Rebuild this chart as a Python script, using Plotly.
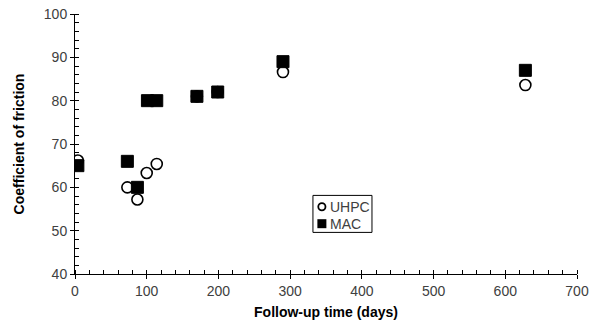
import plotly.graph_objects as go

uhpc_days = [4, 73, 87, 100, 114, 170, 199, 290, 628]
uhpc_cof = [66.2, 60.0, 57.2, 63.3, 65.4, 81.0, 82.0, 86.6, 83.6]
mac_days = [4, 73, 87, 101, 114, 170, 199, 290, 628]
mac_cof = [65.0, 66.0, 60.0, 80.0, 80.0, 81.0, 82.0, 89.0, 87.0]
series_names = ["UHPC", "MAC"]

FONT = "Liberation Sans, Arial, sans-serif"
TICK_COLOR = "#404040"

fig = go.Figure()
fig.add_trace(go.Scatter(x=uhpc_days, y=uhpc_cof, mode="markers", name=series_names[0],
                         marker=dict(symbol="circle", size=11, color="white",
                                     line=dict(color="black", width=1.6))))
fig.add_trace(go.Scatter(x=mac_days, y=mac_cof, mode="markers", name=series_names[1],
                         marker=dict(symbol="square", size=12, color="black",
                                     line=dict(color="black", width=1))))
# invisible trace to carry the inner half of the crossing major ticks
fig.add_trace(go.Scatter(x=[None], y=[None], xaxis="x2", yaxis="y2", showlegend=False))

# hand-drawn compact legend (paper coordinates)
L = dict(x0=0.474, x1=0.5916, y0=0.16, y1=0.3023)
row_y = [0.2588, 0.1935]
sym_x = 0.4918
txt_x = 0.5030
fig.add_shape(type="rect", xref="paper", yref="paper", x0=L["x0"], x1=L["x1"],
              y0=L["y0"], y1=L["y1"], line=dict(color="black", width=1), fillcolor="white",
              layer="above")
fig.add_shape(type="circle", xref="paper", yref="paper", xsizemode="pixel", ysizemode="pixel",
              xanchor=sym_x, yanchor=row_y[0], x0=-3.6, x1=3.6, y0=-3.6, y1=3.6,
              line=dict(color="black", width=1.8), fillcolor="white", layer="above")
fig.add_shape(type="rect", xref="paper", yref="paper", xsizemode="pixel", ysizemode="pixel",
              xanchor=sym_x, yanchor=row_y[1], x0=-4.5, x1=4.5, y0=-4.5, y1=4.5,
              line=dict(color="black", width=0), fillcolor="black", layer="above")
for name, yy in zip(series_names, row_y):
    fig.add_annotation(x=txt_x, y=yy, xref="paper", yref="paper", text=name,
                       showarrow=False, xanchor="left", yanchor="middle",
                       font=dict(family=FONT, size=14, color=TICK_COLOR))

fig.update_layout(
    width=591, height=324,
    margin=dict(l=75, r=14, t=14, b=50),
    paper_bgcolor="white", plot_bgcolor="white",
    font=dict(family=FONT, size=14, color=TICK_COLOR),
    showlegend=False,
    xaxis=dict(range=[0, 700], dtick=100, tick0=0, showgrid=False, zeroline=False,
               automargin=False,
               showline=True, linecolor="black", linewidth=1,
               ticks="outside", ticklen=4, tickcolor="black", tickwidth=1,
               tickfont=dict(family=FONT, size=14, color=TICK_COLOR),
               minor=dict(dtick=20, ticks="inside", ticklen=4, tickcolor="black"),
               title=dict(text="<b>Follow-up time (days)</b>", standoff=9,
                          font=dict(family=FONT, size=14, color="black"))),
    yaxis=dict(range=[40, 100], dtick=10, tick0=0, showgrid=False, zeroline=False,
               automargin=False,
               showline=True, linecolor="black", linewidth=1,
               ticks="outside", ticklen=4, tickcolor="black", tickwidth=1,
               tickfont=dict(family=FONT, size=14, color=TICK_COLOR),
               minor=dict(dtick=2, ticks="inside", ticklen=4, tickcolor="black"),
               title=dict(text="<b>Coefficient of friction</b>", standoff=15,
                          font=dict(family=FONT, size=14, color="black"))),
    xaxis2=dict(overlaying="x", matches="x", range=[0, 700], dtick=100, tick0=0,
                automargin=False,
                showgrid=False, zeroline=False, showticklabels=False,
                ticks="inside", ticklen=4, tickcolor="black", anchor="y2"),
    yaxis2=dict(overlaying="y", matches="y", range=[40, 100], dtick=10, tick0=0,
                automargin=False,
                showgrid=False, zeroline=False, showticklabels=False,
                ticks="inside", ticklen=4, tickcolor="black", anchor="x2"),
)

fig.write_html("out.html", config={"displayModeBar": False},
               post_script="document.body.style.margin='0';document.body.style.overflow='hidden';")
